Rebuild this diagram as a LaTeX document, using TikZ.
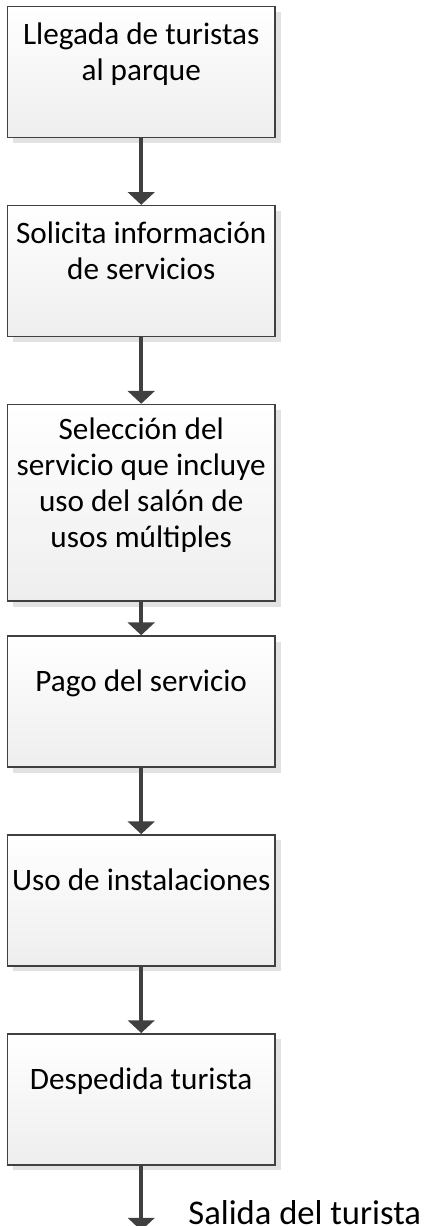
\documentclass[tikz,border=0pt]{standalone}
\usepackage{fontspec}
\setmainfont{Carlito}
\usetikzlibrary{arrows.meta,positioning,shadows}
\definecolor{Edge}{HTML}{404040}
\definecolor{Flow}{HTML}{404040}
\definecolor{Shade}{HTML}{EEEEEE}
\definecolor{Shadow}{HTML}{E2E2E2}

\begin{document}
\begin{tikzpicture}[
  node distance=33.2pt,
  stepbox/.style={draw=Edge,line width=0.75pt,top color=white,bottom color=Shade,minimum width=133.85pt,minimum height=65.5pt,inner sep=0pt,drop shadow={shadow xshift=2.75pt,shadow yshift=-2.75pt,fill=Shadow,opacity=1}},
  steptext/.style={inner sep=0pt,align=center,font=\fontsize{15.6pt}{18pt}\selectfont,text=black},
  arrow/.style={-{Triangle[width=13.3pt,length=6.4pt]},line width=2pt,draw=Flow}
]
\useasboundingbox (0,0) rectangle (215.5pt,-613pt);
\node[stepbox] (llegada) at (70.6pt,-36.1pt) {};
\node[stepbox,below=of llegada] (solicita) {};
\node[stepbox,below=of solicita,minimum height=98.3pt] (seleccion) {};
\node[stepbox,below=16.7pt of seleccion] (pago) {};
\node[stepbox,below=of pago] (uso) {};
\node[stepbox,below=of uso] (despedida) {};
\coordinate[below=32.5pt of despedida] (salida);
% textos de cada paso
\node[steptext] (tLlegada) at ([yshift=8.5pt]llegada.center) {\strut Llegada de turistas\\al parque\strut};
\node[steptext] (tSolicita) at ([yshift=8.5pt]solicita.center) {\strut Solicita información\\de servicios\strut};
\node[steptext] (tSeleccion) at ([yshift=8.5pt]seleccion.center) {\strut Selección del\\servicio que incluye\\uso del salón de\\usos múltiples\strut};
\node[steptext] (tPago) at ([yshift=8.5pt]pago.center) {\strut Pago del servicio\strut};
\node[steptext] (tUso) at ([yshift=8.5pt]uso.center) {\strut Uso de instalaciones\strut};
\node[steptext] (tDespedida) at ([yshift=8.5pt]despedida.center) {\strut Despedida turista\strut};
\node[steptext,anchor=base west,font=\fontsize{17.3pt}{20pt}\selectfont] (tSalida) at ([xshift=23.4pt,yshift=2.8pt]salida) {Salida del turista};
% flechas
\draw[arrow] (llegada) -- (solicita);
\draw[arrow] (solicita) -- (seleccion);
\draw[arrow] (seleccion) -- (pago);
\draw[arrow] (pago) -- (uso);
\draw[arrow] (uso) -- (despedida);
\draw[arrow] (despedida) -- (salida);
\end{tikzpicture}
\end{document}
